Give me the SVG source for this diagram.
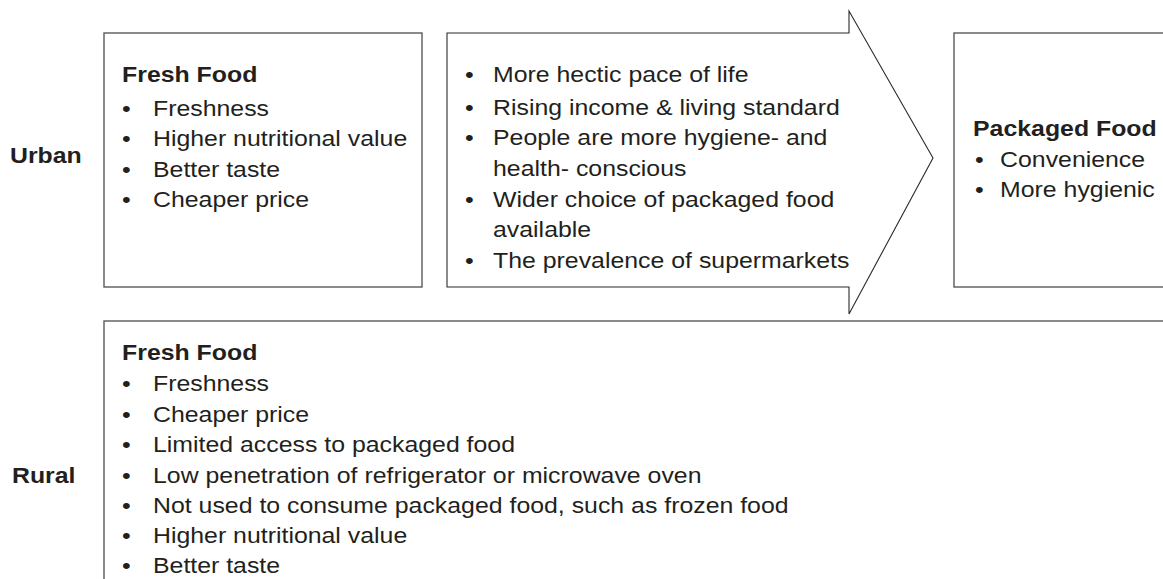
<svg xmlns="http://www.w3.org/2000/svg" width="1163" height="579" viewBox="0 0 1163 579">
  <style>
    .box { fill: #ffffff; stroke: #5a5a5a; stroke-width: 1.4; }
    .arrow { fill: #ffffff; stroke: #2a2a2a; stroke-width: 1.1; stroke-linejoin: miter; }
    text { font-family: "Liberation Sans", Arial, sans-serif; font-size: 22px; fill: #231f20; }
    .b { font-weight: bold; }
  </style>

  <!-- row labels -->
  <g id="label-urban">
    <g transform="scale(1.13,1)"><text class="b" x="8.85" y="163">Urban</text></g>
  </g>
  <g id="label-rural">
    <g transform="scale(1.13,1)"><text class="b" x="10.6" y="483">Rural</text></g>
  </g>

  <!-- urban: fresh food box -->
  <g id="urban-fresh">
    <rect class="box" x="104" y="33" width="318" height="254"/>
    <g transform="scale(1.13,1)">
      <text class="b" x="108" y="82">Fresh Food</text>
      <text x="108" y="116">•</text><text x="135.4" y="116">Freshness</text>
      <text x="108" y="146">•</text><text x="135.4" y="146">Higher nutritional value</text>
      <text x="108" y="177">•</text><text x="135.4" y="177">Better taste</text>
      <text x="108" y="207">•</text><text x="135.4" y="207">Cheaper price</text>
    </g>
  </g>

  <!-- urban: drivers arrow -->
  <g id="urban-drivers">
    <path class="arrow" d="M447,33 H849 V11 L933,158 L849,314 V287 H447 Z"/>
    <g transform="scale(1.13,1)">
      <text x="411.5" y="82">•</text><text x="436.3" y="82">More hectic pace of life</text>
      <text x="411.5" y="115">•</text><text x="436.3" y="115">Rising income &amp; living standard</text>
      <text x="411.5" y="145">•</text><text x="436.3" y="145">People are more hygiene- and</text>
      <text x="436.3" y="176">health- conscious</text>
      <text x="411.5" y="207">•</text><text x="436.3" y="207">Wider choice of packaged food</text>
      <text x="436.3" y="237">available</text>
      <text x="411.5" y="268">•</text><text x="436.3" y="268">The prevalence of supermarkets</text>
    </g>
  </g>

  <!-- urban: packaged food box -->
  <g id="urban-packaged">
    <rect class="box" x="954" y="33" width="230" height="254"/>
    <g transform="scale(1.13,1)">
      <text class="b" x="861.1" y="136">Packaged Food</text>
      <text x="862.8" y="167">•</text><text x="885" y="167">Convenience</text>
      <text x="862.8" y="197">•</text><text x="885" y="197">More hygienic</text>
    </g>
  </g>

  <!-- rural: fresh food box -->
  <g id="rural-fresh">
    <rect class="box" x="104" y="321" width="1080" height="280"/>
    <g transform="scale(1.13,1)">
      <text class="b" x="108" y="360">Fresh Food</text>
      <text x="108" y="391">•</text><text x="135.4" y="391">Freshness</text>
      <text x="108" y="422">•</text><text x="135.4" y="422">Cheaper price</text>
      <text x="108" y="452">•</text><text x="135.4" y="452">Limited access to packaged food</text>
      <text x="108" y="483">•</text><text x="135.4" y="483">Low penetration of refrigerator or microwave oven</text>
      <text x="108" y="513">•</text><text x="135.4" y="513">Not used to consume packaged food, such as frozen food</text>
      <text x="108" y="543">•</text><text x="135.4" y="543">Higher nutritional value</text>
      <text x="108" y="573">•</text><text x="135.4" y="573">Better taste</text>
    </g>
  </g>

  <g id="connectors"></g>
</svg>
